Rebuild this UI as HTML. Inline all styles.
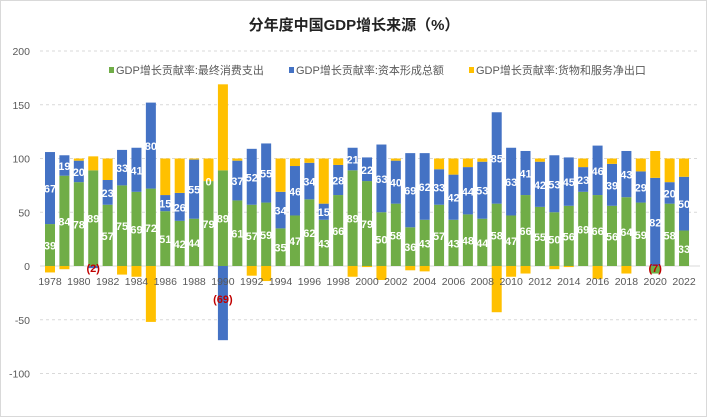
<!DOCTYPE html>
<html><head><meta charset="utf-8"><style>
html,body{margin:0;padding:0;background:#fff}
svg{display:block;font-family:"Liberation Sans","Noto Sans CJK SC",sans-serif}
</style></head><body>
<svg width="708" height="418" viewBox="0 0 708 418" xmlns="http://www.w3.org/2000/svg">
<rect x="0.5" y="0.5" width="706" height="416" fill="#fff" stroke="#d9d9d9"/>
<text x="354" y="30" text-anchor="middle" font-size="15" font-weight="bold" fill="#222">分年度中国GDP增长来源（%）</text>
<g font-size="11" fill="#595959">
<rect x="109" y="67" width="5" height="6" fill="#70ad47"/><text x="116" y="74">GDP增长贡献率:最终消费支出</text>
<rect x="289" y="67" width="5" height="6" fill="#4472c4"/><text x="296" y="74">GDP增长贡献率:资本形成总额</text>
<rect x="469" y="67" width="5" height="6" fill="#ffc000"/><text x="476" y="74">GDP增长贡献率:货物和服务净出口</text>
</g>
<g id="grid"></g>
<g id="bars"></g>
<g id="labels"></g>
</svg>
<script>
var Z=266,S=1.075,X0=50,DX=14.41,W=10;
var d=[[39,67,-6],[84,19,-3],[78,20,2],[89,-2,13],[57,23,20],[75,33,-8],[69,41,-10],[72,80,-52],[51,15,34],[42,26,32],[44,55,1],[79,0,21],[89,-69,80],[61,37,2],[57,52,-9],[59,55,-14],[35,34,31],[47,46,7],[62,34,4],[43,15,42],[66,28,6],[89,21,-10],[79,22,-1],[50,63,-13],[58,40,2],[36,69,-4],[43,62,-5],[57,33,10],[43,42,15],[48,44,8],[44,53,3],[58,85,-43],[47,63,-10],[66,41,-7],[55,42,3],[50,53,-3],[56,45,-1],[69,23,8],[66,46,-12],[56,39,5],[64,43,-7],[59,29,12],[-7,82,25],[58,20,22],[33,50,17]];
var cols=["#70ad47","#4472c4","#ffc000"];
var ns="http://www.w3.org/2000/svg";
function el(p,t,a,txt){var e=document.createElementNS(ns,t);for(var k in a)e.setAttribute(k,a[k]);if(txt!=null)e.textContent=txt;document.getElementById(p).appendChild(e);return e;}
[200,150,100,50,0,-50,-100].forEach(function(v){var y=Z-v*S;
 if(v!=0)el("grid","line",{x1:40,x2:700,y1:y,y2:y,stroke:"#d9d9d9","stroke-dasharray":"3,3"});
 el("grid","text",{x:30,y:y+4,"text-anchor":"end","font-size":"10.5",fill:"#595959"},v);});
el("grid","line",{x1:40,x2:700,y1:Z,y2:Z,stroke:"#d9d9d9"});
d.forEach(function(r,i){var cx=X0+i*DX,pos=0,neg=0;
 r.forEach(function(v,j){var y0,h,mid;
  if(v>=0){y0=Z-(pos+v)*S;h=v*S;mid=pos+v/2;pos+=v;}else{y0=Z+neg*S;h=-v*S;mid=-(neg-v/2);neg-=v;}
  el("bars","rect",{x:cx-W/2,y:y0,width:W,height:h,fill:cols[j]});
  if(j<2){
   if(v>=0)el("labels","text",{x:cx,y:Z-mid*S+4.5,"text-anchor":"middle","font-size":"11","font-weight":"bold",fill:"#fff"},v);
   else {var ly=v<-20?303:Z+6;el("labels","text",{x:cx,y:ly,"text-anchor":"middle","font-size":"11","font-weight":"bold",fill:"#c00000"},"("+(-v)+")");}
  }
 });
 if((1978+i)%2==0)el("labels","text",{x:cx,y:285,"text-anchor":"middle","font-size":"10.5",fill:"#595959"},1978+i);
});
</script>
</body></html>
